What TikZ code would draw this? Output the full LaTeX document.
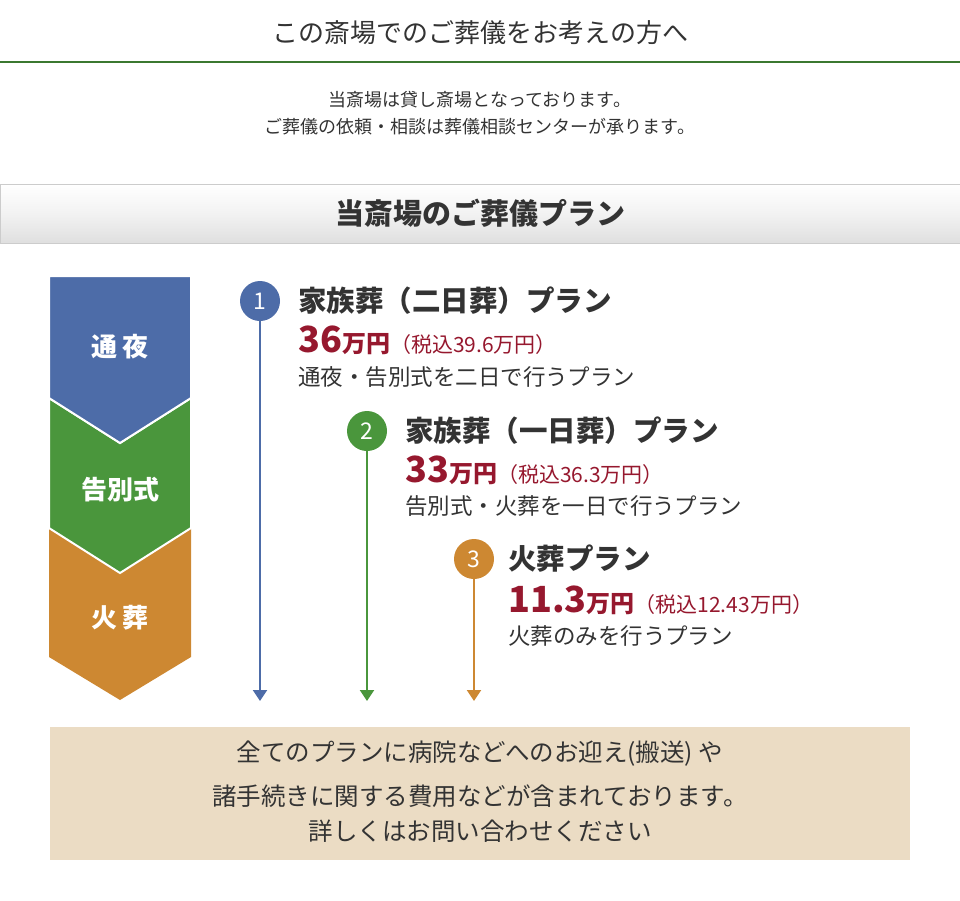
\documentclass[tikz,border=0pt]{standalone}
\usepackage{fontspec}
\setmainfont{Noto Sans CJK JP}
\usetikzlibrary{positioning, arrows.meta}
\definecolor{planblue}{HTML}{4D6CA8}
\definecolor{plangreen}{HTML}{4A963C}
\definecolor{planorange}{HTML}{CD8832}
\definecolor{planred}{HTML}{96182E}
\definecolor{beige}{HTML}{EBDCC4}
\definecolor{txt}{HTML}{333333}
\begin{document}
\begin{tikzpicture}[x=1pt, y=-1pt,
  num/.style={circle, minimum size=40pt, inner sep=0pt, text=white, font=\fontsize{23}{23}\selectfont},
  plantitle/.style={anchor=west, inner sep=0pt, text=txt, font=\bfseries\fontsize{28.5}{28.5}\selectfont},
  price/.style={anchor=west, inner sep=0pt, text=planred},
  desc/.style={anchor=west, inner sep=0pt, text=txt, font=\fontsize{22.5}{22.5}\selectfont},
  stage/.style={text=white, font=\bfseries\fontsize{26}{26}\selectfont},
  notetext/.style={text=txt, font=\fontsize{24.5}{24.5}\selectfont},
  flow/.style={line width=2pt, -{Triangle[length=11pt, width=14pt]}}
]
\useasboundingbox (0,0) rectangle (960,900);

% Heading
\node[text=txt, font=\fontsize{26}{26}\selectfont] (head) at (480,33) {この斎場でのご葬儀をお考えの方へ};
\draw[plangreen!80!black, line width=2pt] (0,62) -- (960,62);
\node[text=txt, font=\fontsize{18}{18}\selectfont] (intro1) at (480,100) {当斎場は貸し斎場となっております。};
\node[text=txt, font=\fontsize{18}{18}\selectfont] (intro2) at (480,127) {ご葬儀の依頼・相談は葬儀相談センターが承ります。};

% Plan bar
\shade[top color=white, bottom color=gray!25, middle color=gray!10] (0,184) rectangle (960,243);
\draw[gray!40] (0,184) rectangle (960,243);
\node[text=txt, font=\bfseries\fontsize{29}{29}\selectfont] (bar) at (480,213) {当斎場のご葬儀プラン};

% Stages
\fill[planorange] (49,528) -- (120,573) -- (191,528) -- (191,657) -- (120,700) -- (49,657) -- cycle;
\draw[white, line width=2pt, fill=plangreen] (49,398) -- (120,443) -- (191,398) -- (191,528) -- (120,573) -- (49,528) -- cycle;
\draw[white, line width=2pt, fill=planblue] (49,276) -- (191,276) -- (191,398) -- (120,443) -- (49,398) -- cycle;
\node[stage] (tsuya) at (120,347) {通 夜};
\node[stage] (kokubetsu) at (120,490) {告別式};
\node[stage] (kaso) at (120,618) {火 葬};

% Plans
\node[num, fill=planblue] (n1) at (260,301) {1};
\node[num, fill=plangreen] (n2) at (367,431) {2};
\node[num, fill=planorange] (n3) at (474,559) {3};
\coordinate (e1) at (260,701);
\coordinate (e2) at (367,701);
\coordinate (e3) at (474,701);
\draw[flow, planblue] (n1) -- (e1);
\draw[flow, plangreen] (n2) -- (e2);
\draw[flow, planorange] (n3) -- (e3);

\node[plantitle] (t1) at (298,301) {家族葬（二日葬）プラン};
\node[price] (p1) at (298,340) {\bfseries\fontsize{36}{36}\selectfont 36\fontsize{24}{24}\selectfont 万円\mdseries\fontsize{21}{21}\selectfont（税込39.6万円）};
\node[desc] (d1) at (298,377) {通夜・告別式を二日で行うプラン};

\node[plantitle] (t2) at (405,431) {家族葬（一日葬）プラン};
\node[price] (p2) at (405,470) {\bfseries\fontsize{36}{36}\selectfont 33\fontsize{24}{24}\selectfont 万円\mdseries\fontsize{21}{21}\selectfont（税込36.3万円）};
\node[desc] (d2) at (405,506) {告別式・火葬を一日で行うプラン};

\node[plantitle] (t3) at (508,559) {火葬プラン};
\node[price] (p3) at (508,600) {\bfseries\fontsize{36}{36}\selectfont 11.3\fontsize{24}{24}\selectfont 万円\mdseries\fontsize{21}{21}\selectfont（税込12.43万円）};
\node[desc] (d3) at (508,636) {火葬のみを行うプラン};

% Note
\fill[beige] (50,727) rectangle (910,860);
\node[notetext] (note1) at (480,754) {全てのプランに病院などへのお迎え(搬送) や};
\node[notetext] (note2) at (480,796) {諸手続きに関する費用などが含まれております。};
\node[notetext] (note3) at (480,831) {詳しくはお問い合わせください};
\end{tikzpicture}
\end{document}
